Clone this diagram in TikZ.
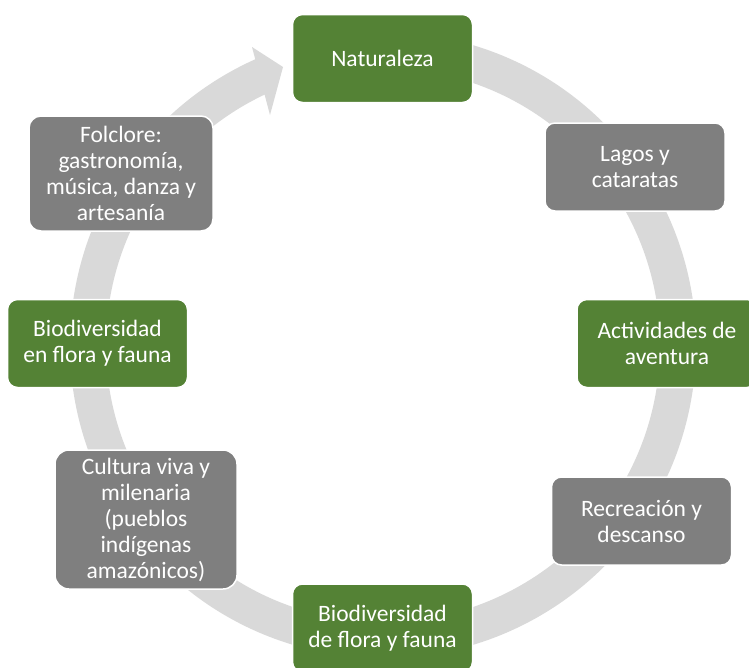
\documentclass[tikz,border=0pt]{standalone}
\usepackage{fontspec}
\setmainfont{Carlito}
\definecolor{boxgreen}{HTML}{548235}
\definecolor{boxgray}{HTML}{7F7F7F}
\definecolor{ringgray}{HTML}{D9D9D9}
\begin{document}
\begin{tikzpicture}[x=1pt,y=-1pt,
  cbox/.style={draw=white, line width=1.5pt, rounded corners=10pt, align=center,
    text=white, inner sep=0pt, font=\fontsize{23.5}{26}\selectfont,
    minimum width=180pt, minimum height=88pt},
  gbox/.style={cbox, fill=boxgreen},
  ybox/.style={cbox, fill=boxgray},
  ring/.style={draw=ringgray, line width=36pt, line cap=butt}]
\useasboundingbox (0,0) rectangle (749,667);
\fill[white] (0,0) rectangle (749,667);
\coordinate (c) at (383,345);
% ring with arrow head
\draw[ring] (c) ++(80:295pt) arc[start angle=80, end angle=-246.5, radius=295pt];
\coordinate (w1) at (252,47);
\coordinate (tip) at (283,67);
\coordinate (w2) at (270,115);
\fill[ringgray] (w1) -- (tip) -- (w2) -- cycle;
% nodes
\node[gbox] (n1) at (382.5,58.5) {Naturaleza};
\node[ybox] (n2) at (635,167) {Lagos y\\cataratas};
\node[gbox] (n3) at (667,343.5) {Actividades de\\aventura};
\node[ybox] (n4) at (641.5,521) {Recreación y\\descanso};
\node[gbox] (n5) at (382.5,628) {Biodiversidad\\de flora y fauna};
\node[ybox, minimum width=182pt, minimum height=139pt, rounded corners=14pt] (n6) at (146,519.5) {Cultura viva y\\milenaria\\(pueblos\\indígenas\\amazónicos)};
\node[gbox] (n7) at (97.5,343.5) {Biodiversidad\\en flora y fauna};
\node[ybox, minimum width=184pt, minimum height=115pt, rounded corners=12pt] (n8) at (121,173.5) {Folclore:\\gastronomía,\\música, danza y\\artesanía};
\end{tikzpicture}
\end{document}
